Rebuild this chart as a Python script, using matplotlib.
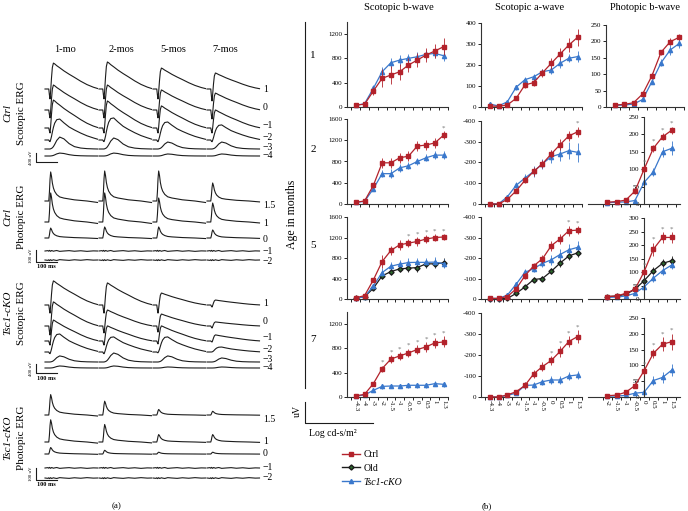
import matplotlib
matplotlib.use("Agg")
import matplotlib.pyplot as plt
from matplotlib.lines import Line2D
import numpy as np

W, H = 688, 511
plt.rcParams["font.family"] = ["Liberation Serif", "DejaVu Serif"]

RED = "#B3222B"
BLUE = "#3A78CC"
GREEN = "#2C6A2C"
INK = "#1c1c1c"

# ---------------- panel (b): intensity-response data (uV) ----------------
SCOT_X = ["-4.3", "-4", "-3", "-2", "-1.5", "-1", "-0.5", "0", "0.5", "1", "1.3"]
PHOT_X = ["-2", "-1.5", "-1", "-0.5", "0", "0.5", "1", "1.5"]

# scotopic b-wave
sb_ctrl_1 = [33, 45, 263, 472, 527, 581, 691, 773, 856, 922, 993]
sb_tsc_1 = [25, 55, 307, 581, 729, 773, 801, 828, 867, 883, 845]
sb_ctrl_2 = [32, 57, 349, 775, 775, 870, 900, 1090, 1110, 1150, 1295]
sb_tsc_2 = [30, 50, 286, 571, 571, 680, 720, 800, 870, 920, 920]
sb_ctrl_5 = [25, 65, 372, 731, 947, 1058, 1090, 1123, 1170, 1200, 1209]
sb_tsc_5 = [20, 40, 255, 516, 640, 680, 712, 715, 715, 720, 690]
sb_old_5 = [14, 45, 209, 451, 535, 588, 601, 614, 686, 686, 705]
sb_ctrl_7 = [17, 44, 220, 468, 625, 677, 726, 782, 825, 891, 907]
sb_tsc_7 = [17, 33, 110, 175, 181, 181, 193, 193, 193, 220, 209]

sb_ctrl_1_err = [15, 20, 60, 150, 150, 130, 120, 110, 110, 120, 140]
sb_tsc_1_err = [10, 15, 50, 70, 80, 90, 80, 70, 70, 80, 90]
sb_ctrl_2_err = [10, 15, 40, 90, 100, 90, 100, 90, 100, 90, 80]
sb_tsc_2_err = [10, 10, 40, 70, 80, 70, 70, 70, 70, 70, 70]
sb_ctrl_5_err = [60, 50, 30, 120, 90, 100, 80, 80, 70, 60, 60]
sb_tsc_5_err = [40, 40, 40, 80, 80, 90, 90, 90, 90, 90, 90]
sb_old_5_err = [20, 20, 40, 60, 70, 70, 80, 80, 80, 90, 90]
sb_ctrl_7_err = [15, 20, 30, 50, 60, 60, 70, 70, 80, 80, 90]
sb_tsc_7_err = [10, 10, 20, 40, 40, 40, 40, 40, 40, 40, 40]

# scotopic a-wave (magnitude)
sa_ctrl_1 = [5, 3, 10, 41, 105, 116, 163, 208, 252, 295, 332]
sa_tsc_1 = [14, 5, 25, 94, 130, 144, 168, 176, 208, 232, 240]
sa_ctrl_2 = [0, 0, 22, 63, 114, 157, 194, 241, 286, 328, 348]
sa_tsc_2 = [2, 0, 35, 90, 125, 157, 194, 228, 241, 257, 249]
sa_ctrl_5 = [3, 3, 12, 49, 113, 162, 196, 260, 293, 333, 336]
sa_tsc_5 = [3, 3, 19, 72, 130, 148, 174, 191, 217, 240, 252]
sa_old_5 = [0, 0, 3, 27, 59, 95, 100, 135, 175, 210, 225]
sa_ctrl_7 = [0, 0, 10, 25, 55, 110, 145, 174, 217, 264, 288]
sa_tsc_7 = [0, 0, 8, 18, 55, 57, 73, 81, 81, 100, 105]

sa_ctrl_1_err = [5, 5, 8, 10, 15, 15, 20, 25, 30, 35, 40]
sa_tsc_1_err = [8, 5, 10, 12, 15, 15, 15, 20, 20, 20, 25]
sa_ctrl_2_err = [5, 5, 10, 12, 15, 20, 20, 20, 25, 25, 25]
sa_tsc_2_err = [5, 5, 10, 15, 20, 25, 25, 30, 35, 40, 45]
sa_ctrl_5_err = [8, 5, 8, 10, 15, 15, 20, 25, 25, 25, 20]
sa_tsc_5_err = [5, 5, 8, 12, 15, 15, 20, 25, 25, 30, 30]
sa_old_5_err = [5, 5, 5, 8, 10, 10, 12, 15, 20, 20, 20]
sa_ctrl_7_err = [5, 5, 5, 10, 15, 20, 20, 20, 25, 25, 30]
sa_tsc_7_err = [5, 5, 5, 10, 15, 15, 15, 20, 20, 20, 20]

# photopic b-wave
pb_ctrl_1 = [6, 8, 13, 40, 95, 167, 199, 213]
pb_tsc_1 = [5, 6, 9, 23, 77, 135, 174, 194]
pb_ctrl_2 = [5, 7, 11, 37, 100, 160, 193, 212]
pb_tsc_2 = [4, 5, 6, 10, 62, 92, 150, 160]
pb_ctrl_5 = [9, 11, 21, 36, 101, 184, 228, 228]
pb_tsc_5 = [6, 7, 11, 21, 45, 77, 105, 126]
pb_old_5 = [9, 11, 17, 36, 68, 105, 132, 142]
pb_ctrl_7 = [4, 6, 15, 36, 83, 138, 167, 175]
pb_tsc_7 = [3, 3, 5, 12, 15, 52, 62, 85]

pb_ctrl_1_err = [3, 3, 4, 5, 8, 8, 10, 10]
pb_tsc_1_err = [3, 3, 3, 5, 8, 10, 14, 15]
pb_ctrl_2_err = [3, 3, 4, 8, 12, 10, 10, 10]
pb_tsc_2_err = [2, 2, 3, 5, 15, 12, 15, 20]
pb_ctrl_5_err = [3, 3, 5, 8, 12, 25, 20, 20]
pb_tsc_5_err = [3, 3, 4, 8, 10, 15, 15, 15]
pb_old_5_err = [3, 3, 4, 8, 10, 12, 15, 18]
pb_ctrl_7_err = [3, 3, 5, 8, 12, 15, 22, 25]
pb_tsc_7_err = [2, 2, 3, 5, 10, 15, 18, 20]

# points marked with * (Ctrl vs Tsc1-cKO)
sb_stars = [[], [10], [6, 7, 8, 9, 10], [3, 4, 5, 6, 7, 8, 9, 10]]
sa_stars = [[], [10], [9, 10], [7, 8, 9, 10]]
pb_stars = [[], [4, 5, 6, 7], [4, 5, 6, 7], [4, 5, 6, 7]]

AGES = ["1", "2", "5", "7"]

# ---------------- panel (a): ERG waveform templates ----------------
ERG_T = [0, 14, 18, 21, 24, 27, 31, 35, 40, 46, 56, 70, 90, 115, 140, 170, 200, 230, 250]
SCOT_A = [0, 0, 0, 0.6, 1.0, 0.7, 0.3, 0.05, 0, 0, 0, 0, 0, 0, 0, 0, 0, 0, 0]
SCOT_B = [0, 0, 0, 0, 0, 0.2, 0.55, 0.85, 1.0, 0.97, 0.9, 0.82, 0.7, 0.57, 0.45, 0.3, 0.17, 0.07, 0.02]
SCOT_MID = [0, 0, 0, 0, 0.02, 0.08, 0.2, 0.38, 0.6, 0.8, 0.97, 1.0, 0.82, 0.62, 0.48, 0.33, 0.2, 0.1, 0.04]
SCOT_DIM = [0, 0, 0, 0, 0, 0.02, 0.05, 0.1, 0.2, 0.38, 0.72, 1.0, 0.85, 0.45, 0.2, 0.08, 0.03, 0.01, 0]
PHOT_B = [0, 0, 0, 0.3, 0.75, 1.0, 0.85, 0.62, 0.45, 0.33, 0.22, 0.14, 0.1, 0.07, 0.04, 0.02, 0, -0.03, -0.05]
FLAT_NOISE = [0, 3, -2, 5, 2, -3, 4, 2, -2, 1, 4, -3, 0, 3, -2, 2, -3, 1, 0]

AGE_COLS = ["1-mo", "2-mos", "5-mos", "7-mos"]
SCOT_STEPS = ["1", "0", "\u22121", "\u22122", "\u22123", "\u22124"]
PHOT_STEPS = ["1.5", "1", "0", "\u22121", "\u22122"]

# peak amplitudes (uV) per age column x flash intensity
ctrl_scot_b = [[1150, 1110, 1240, 930, 530, 130],
               [1200, 1110, 1200, 980, 490, 130],
               [930, 890, 980, 800, 310, 90],
               [710, 750, 800, 670, 310, 90]]
ctrl_scot_a = [[440, 350, 220, 90, 0, 0],
               [440, 350, 220, 90, 0, 0],
               [440, 350, 220, 90, 0, 0],
               [530, 400, 220, 90, 0, 0]]
tsc_scot_b = [[1070, 1070, 930, 800, 270, 90],
              [980, 710, 670, 670, 400, 90],
              [530, 530, 670, 670, 270, 45],
              [220, 180, 270, 220, 180, 45]]
tsc_scot_a = [[360, 400, 180, 90, 0, 0],
              [360, 310, 180, 90, 0, 0],
              [360, 270, 130, 45, 0, 0],
              [90, 90, 45, 0, 0, 0]]
ctrl_phot_b = [[242, 242, 83], [250, 242, 92], [250, 200, 92], [150, 158, 67]]
tsc_phot_b = [[170, 185, 54], [115, 146, 31], [46, 62, 15], [31, 62, 15]]

fig = plt.figure(figsize=(W / 100, H / 100), dpi=100)
canvas = fig.add_axes([0, 0, 1, 1])
canvas.set_xlim(0, W)
canvas.set_ylim(H, 0)
canvas.axis("off")

# --- panel (a) layout (pixels) ---
COL_X0 = [45, 99, 153, 207]
PX_PER_MS = 0.21
STEP_X = 263
t_px = np.array(ERG_T) * PX_PER_MS


def draw_scotopic(starts, label_ys, amp_b, amp_a, uv_px):
    templates = [SCOT_B, SCOT_B, SCOT_B, SCOT_MID, SCOT_DIM, SCOT_DIM]
    for c, x0 in enumerate(COL_X0):
        for k, base in enumerate(starts):
            shape = amp_b[c][k] * np.array(templates[k]) - amp_a[c][k] * np.array(SCOT_A)
            canvas.plot(x0 + t_px, base - shape / uv_px, color=INK, lw=0.8)
    for lab, y in zip(SCOT_STEPS, label_ys):
        canvas.text(STEP_X, y, lab, fontsize=7, va="center", ha="left")


def draw_photopic(starts, label_ys, amp_b, uv_px):
    for c, x0 in enumerate(COL_X0):
        for k, base in enumerate(starts):
            if k < len(amp_b[c]):
                shape = amp_b[c][k] * np.array(PHOT_B)
            else:
                shape = np.array(FLAT_NOISE) * (1 if k == 3 else -1)
            canvas.plot(x0 + t_px, base - shape / uv_px, color=INK, lw=0.8)
    for lab, y in zip(PHOT_STEPS, label_ys):
        canvas.text(STEP_X, y, lab, fontsize=7, va="center", ha="left")


def scale_bar(y_bottom, uv, uv_px, ms_label):
    h = uv / uv_px
    canvas.plot([36, 36, 36 + 100 * PX_PER_MS], [y_bottom - h, y_bottom, y_bottom],
                color=INK, lw=0.8)
    canvas.text(33, y_bottom - h / 2, f"{uv} uV", rotation=90, fontsize=3.5,
                ha="right", va="center")
    if ms_label:
        canvas.text(37, y_bottom + 2.5, "100 ms", fontsize=4.5, fontweight="bold",
                    ha="left", va="top")


for name, x in zip(AGE_COLS, [65, 121, 173, 225]):
    canvas.text(x, 49, name, fontsize=7.5, ha="center", va="center")

draw_scotopic([89, 110, 128, 140, 149, 156], [89, 107, 125, 137, 147, 156],
              ctrl_scot_b, ctrl_scot_a, 44.4)
scale_bar(162, 400, 44.4, False)
draw_photopic([201, 222, 238, 251, 260], [205, 223, 240, 252, 261], ctrl_phot_b, 8.33)
scale_bar(262, 100, 8.33, True)
draw_scotopic([305, 326, 341, 352, 362, 368], [303, 321, 337, 350, 360, 368],
              tsc_scot_b, tsc_scot_a, 44.4)
scale_bar(373, 400, 44.4, True)
draw_photopic([415, 442, 454, 468, 478], [420, 441, 454, 468, 477], tsc_phot_b, 8.33)
scale_bar(480, 100, 8.33, True)

for y, geno, kind in [(113, "Ctrl", "Scotopic ERG"), (217, "Ctrl", "Photopic ERG"),
                      (313, "Tsc1-cKO", "Scotopic ERG"), (438, "Tsc1-cKO", "Photopic ERG")]:
    canvas.text(8, y, geno, rotation=90, fontsize=8, fontstyle="italic",
                ha="center", va="center")
    canvas.text(21, y, kind, rotation=90, fontsize=8, ha="center", va="center")

canvas.text(117, 506, "(a)", fontsize=6.5, ha="center", va="center")
canvas.text(487, 506, "(b)", fontsize=6.5, ha="center", va="center")

# --- panel (b) frame texts ---
for x, title in [(399, "Scotopic b-wave"), (530, "Scotopic a-wave"), (645, "Photopic b-wave")]:
    canvas.text(x, 8, title, fontsize=7.5, ha="center", va="center")
canvas.plot([305, 305], [22, 388], color=INK, lw=0.8)
canvas.plot([305, 305, 373], [402, 423, 423], color=INK, lw=0.8)
canvas.text(292, 214, "Age in months", rotation=90, fontsize=8.5, ha="center", va="center")
for lab, y in zip(AGES, [55, 150, 245, 340]):
    canvas.text(313, y, lab, fontsize=8, ha="center", va="center")
canvas.text(297, 411, "uV", rotation=90, fontsize=7, ha="center", va="center")
canvas.text(333, 433, "Log cd-s/m\u00b2", fontsize=7, ha="center", va="center")

STYLE = {
    "ctrl": dict(color=RED, marker="s", mfc=RED, mec=RED, ms=2.8),
    "old": dict(color=INK, marker="D", mfc=GREEN, mec=INK, ms=2.6),
    "tsc": dict(color=BLUE, marker="^", mfc=BLUE, mec=BLUE, ms=3.0),
}


def panel(box, xlabels, xlim, series, ymax, ystep, neg=False, spine_at=None,
          show_x=False, stars=()):
    l, t, r, b = box
    ax = fig.add_axes([l / W, 1 - b / H, (r - l) / W, (b - t) / H])
    ax.patch.set_alpha(0)
    x = np.arange(len(xlabels))
    for key, vals, errs in series:
        st = STYLE[key]
        ax.errorbar(x, vals, yerr=errs, color=st["color"], marker=st["marker"],
                    mfc=st["mfc"], mec=st["mec"], ms=st["ms"], lw=0.9,
                    elinewidth=0.6, ecolor=st["color"] if key != "old" else INK,
                    capsize=0, clip_on=False, zorder=3 if key == "ctrl" else 2)
        if key == "ctrl":
            for i in stars:
                ax.annotate("*", (x[i], vals[i] + errs[i]), xytext=(0, 0.5),
                            textcoords="offset points", ha="center", va="bottom",
                            fontsize=5, color="#777777")
    ax.set_xlim(*xlim)
    ax.set_ylim(0, ymax)
    for s in ("top", "right"):
        ax.spines[s].set_visible(False)
    for s in ("left", "bottom"):
        ax.spines[s].set_linewidth(0.8)
        ax.spines[s].set_color("#333333")
    if spine_at is not None:
        ax.spines["left"].set_position(("data", spine_at))
    ax.set_xticks(x)
    ax.set_xticks(np.arange(len(xlabels) + 1) - 0.5, minor=True)
    ax.tick_params(axis="x", which="major", length=0, pad=2)
    ax.tick_params(axis="x", which="minor", length=2.5, width=0.6, direction="out")
    if show_x:
        ax.set_xticklabels(xlabels, rotation=270, fontsize=5)
    else:
        ax.set_xticklabels([])
    yt = np.arange(0, ymax + 1, ystep)
    ax.set_yticks(yt)
    ax.set_yticklabels([("-" if (neg and v) else "") + str(int(v)) for v in yt], fontsize=5)
    ax.tick_params(axis="y", length=2, width=0.6, pad=1.5)
    return ax


ROWS_B = [(107, 0), (204, 1), (299, 2), (397, 3)]
TOP1 = [22, 119, 217, 312]
TOP2 = [23, 121, 217, 313]
TOP3 = [25, 117, 218, 318]

sb_series = [
    [("ctrl", sb_ctrl_1, sb_ctrl_1_err), ("tsc", sb_tsc_1, sb_tsc_1_err)],
    [("ctrl", sb_ctrl_2, sb_ctrl_2_err), ("tsc", sb_tsc_2, sb_tsc_2_err)],
    [("old", sb_old_5, sb_old_5_err), ("tsc", sb_tsc_5, sb_tsc_5_err), ("ctrl", sb_ctrl_5, sb_ctrl_5_err)],
    [("ctrl", sb_ctrl_7, sb_ctrl_7_err), ("tsc", sb_tsc_7, sb_tsc_7_err)],
]
sa_series = [
    [("ctrl", sa_ctrl_1, sa_ctrl_1_err), ("tsc", sa_tsc_1, sa_tsc_1_err)],
    [("ctrl", sa_ctrl_2, sa_ctrl_2_err), ("tsc", sa_tsc_2, sa_tsc_2_err)],
    [("old", sa_old_5, sa_old_5_err), ("tsc", sa_tsc_5, sa_tsc_5_err), ("ctrl", sa_ctrl_5, sa_ctrl_5_err)],
    [("ctrl", sa_ctrl_7, sa_ctrl_7_err), ("tsc", sa_tsc_7, sa_tsc_7_err)],
]
pb_series = [
    [("ctrl", pb_ctrl_1, pb_ctrl_1_err), ("tsc", pb_tsc_1, pb_tsc_1_err)],
    [("ctrl", pb_ctrl_2, pb_ctrl_2_err), ("tsc", pb_tsc_2, pb_tsc_2_err)],
    [("old", pb_old_5, pb_old_5_err), ("tsc", pb_tsc_5, pb_tsc_5_err), ("ctrl", pb_ctrl_5, pb_ctrl_5_err)],
    [("ctrl", pb_ctrl_7, pb_ctrl_7_err), ("tsc", pb_tsc_7, pb_tsc_7_err)],
]
sb_max = [(1400, 400), (1600, 400), (1600, 400), (1400, 400)]
pb_max = [(250, 50), (250, 50), (300, 50), (250, 50)]

for bottom, r in ROWS_B:
    last = r == 3
    panel((347, TOP1[r], 448, bottom), SCOT_X, (-1, 10.5), sb_series[r],
          sb_max[r][0], sb_max[r][1], show_x=last, stars=sb_stars[r])
    panel((481, TOP2[r], 582, bottom), SCOT_X, (-1, 10.5), sa_series[r],
          400, 100, neg=r > 0, show_x=last, stars=sa_stars[r])
    if r == 0:
        panel((606, TOP3[r], 684, bottom), PHOT_X, (-1, 7.5), pb_series[r],
              pb_max[r][0], pb_max[r][1], stars=pb_stars[r])
    else:
        panel((588, TOP3[r], 680, bottom), PHOT_X, (-2.1, 7.9), pb_series[r],
              pb_max[r][0], pb_max[r][1], spine_at=4, show_x=last, stars=pb_stars[r])

handles = [Line2D([], [], lw=1, **STYLE[k]) for k in ("ctrl", "old", "tsc")]
leg = fig.legend(handles, ["Ctrl", "Old", "Tsc1-cKO"], loc="upper left",
                 bbox_to_anchor=(342 / W, 1 - 450 / H), frameon=False, fontsize=7,
                 handlelength=1.8, handletextpad=0.4, labelspacing=0.5,
                 borderaxespad=0, borderpad=0)
leg.get_texts()[2].set_fontstyle("italic")

fig.savefig("out.png", dpi=100)
